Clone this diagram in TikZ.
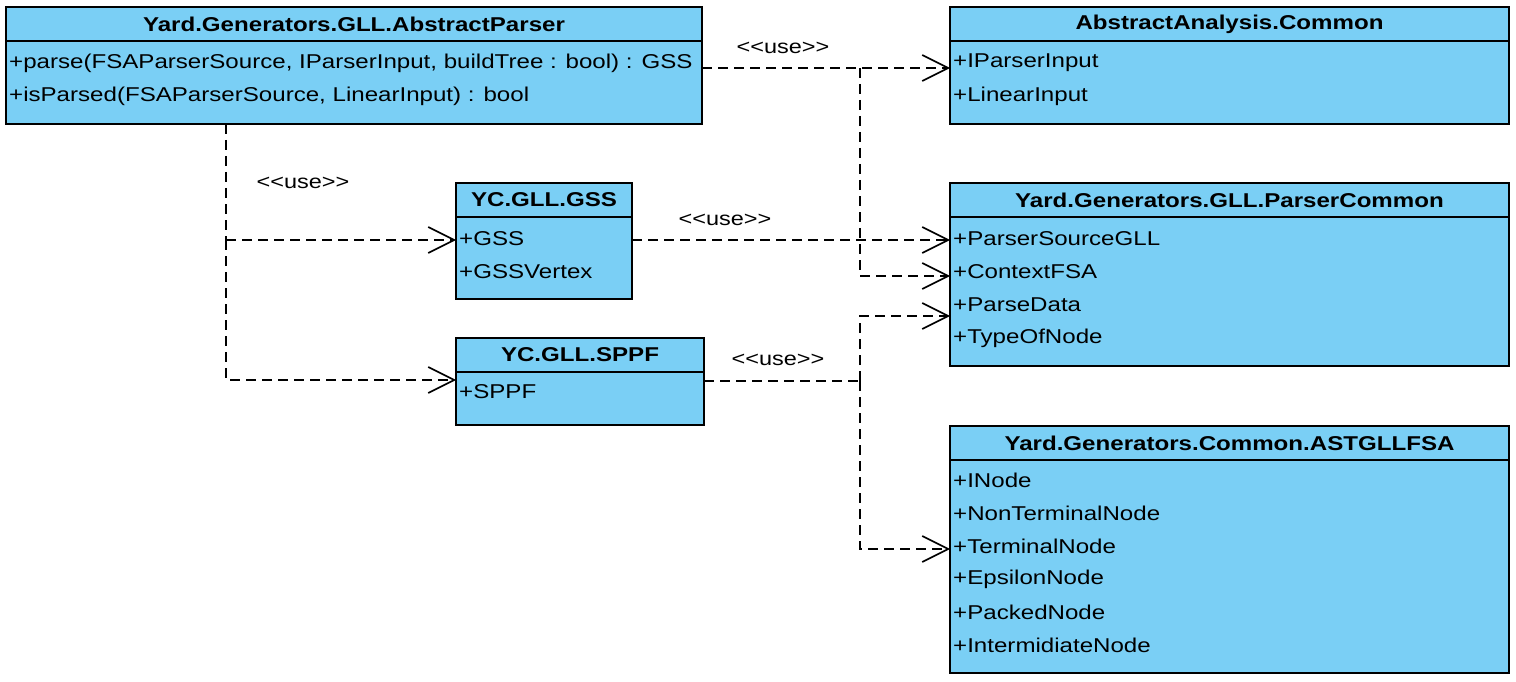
\documentclass[tikz,border=0pt]{standalone}
\usepackage{fontspec}
\setmainfont{Liberation Sans}[FakeStretch=1.205]
\usetikzlibrary{arrows.meta}
\definecolor{umlfill}{RGB}{122,207,245}
\tikzset{
 cls/.style={draw=black, line width=1.6pt, fill=umlfill, anchor=north west, inner sep=0pt, outer sep=0pt},
 hdr/.style={font=\fontsize{20}{24}\selectfont\bfseries, inner sep=0pt, anchor=center},
 row/.style={font=\fontsize{20}{24}\selectfont, inner sep=0pt, anchor=west},
 divl/.style={line width=1.6pt},
 depl/.style={line width=1.6pt, dash pattern=on 10pt off 6pt},
 dep/.style={depl, -{Straight Barb[length=26pt,width=26pt,line width=1.6pt]}},
 lbl/.style={font=\fontsize{19.5}{22}\selectfont, inner sep=0pt}
}
\begin{document}
\begin{tikzpicture}[x=1pt,y=-1pt]
\useasboundingbox (0,0) rectangle (1516,682);
% classes
\node[cls, minimum width=696pt, minimum height=117pt] (ap) at (6,7) {};
\node[cls, minimum width=559pt, minimum height=117pt] (aac) at (950,7) {};
\node[cls, minimum width=176pt, minimum height=116pt] (gss) at (456,183) {};
\node[cls, minimum width=248pt, minimum height=87pt] (sppf) at (456,338) {};
\node[cls, minimum width=559pt, minimum height=183pt] (pc) at (950,183) {};
\node[cls, minimum width=559pt, minimum height=247pt] (ast) at (950,426) {};
% dividers
\foreach \b in {ap,aac,gss,sppf,pc,ast}{
  \draw[divl] ([yshift=-34pt]\b.north west) -- ([yshift=-34pt]\b.north east);
}
% headers
\node[hdr] (ap-h) at ([yshift=-17pt]ap.north) {Yard.Generators.GLL.AbstractParser};
\node[hdr] (aac-h) at ([yshift=-17pt]aac.north) {AbstractAnalysis.Common};
\node[hdr] (gss-h) at ([yshift=-17pt]gss.north) {YC.GLL.GSS};
\node[hdr] (sppf-h) at ([yshift=-17pt]sppf.north) {YC.GLL.SPPF};
\node[hdr] (pc-h) at ([yshift=-17pt]pc.north) {Yard.Generators.GLL.ParserCommon};
\node[hdr] (ast-h) at ([yshift=-17pt]ast.north) {Yard.Generators.Common.ASTGLLFSA};
% rows
\node[row] (ap-r1) at ([xshift=3pt,yshift=-56pt]ap.north west) {+parse(FSAParserSource, IParserInput, buildTree : bool) : GSS};
\node[row] (ap-r2) at ([xshift=3pt,yshift=-89pt]ap.north west) {+isParsed(FSAParserSource, LinearInput) : bool};
\node[row] (aac-r1) at ([xshift=3pt,yshift=-56pt]aac.north west) {+IParserInput};
\node[row] (aac-r2) at ([xshift=3pt,yshift=-89pt]aac.north west) {+LinearInput};
\node[row] (gss-r1) at ([xshift=3pt,yshift=-56pt]gss.north west) {+GSS};
\node[row] (gss-r2) at ([xshift=3pt,yshift=-89pt]gss.north west) {+GSSVertex};
\node[row] (sppf-r1) at ([xshift=3pt,yshift=-54pt]sppf.north west) {+SPPF};
\node[row] (pc-r1) at ([xshift=3pt,yshift=-56pt]pc.north west) {+ParserSourceGLL};
\node[row] (pc-r2) at ([xshift=3pt,yshift=-89pt]pc.north west) {+ContextFSA};
\node[row] (pc-r3) at ([xshift=3pt,yshift=-122pt]pc.north west) {+ParseData};
\node[row] (pc-r4) at ([xshift=3pt,yshift=-155pt]pc.north west) {+TypeOfNode};
\node[row] (ast-r1) at ([xshift=3pt,yshift=-54pt]ast.north west) {+INode};
\node[row] (ast-r2) at ([xshift=3pt,yshift=-87pt]ast.north west) {+NonTerminalNode};
\node[row] (ast-r3) at ([xshift=3pt,yshift=-120pt]ast.north west) {+TerminalNode};
\node[row] (ast-r4) at ([xshift=3pt,yshift=-153pt]ast.north west) {+EpsilonNode};
\node[row] (ast-r5) at ([xshift=3pt,yshift=-186pt]ast.north west) {+PackedNode};
\node[row] (ast-r6) at ([xshift=3pt,yshift=-219pt]ast.north west) {+IntermidiateNode};
% junction coordinates
\coordinate (j1) at (860,68);
\coordinate (j1b) at (860,276);
\coordinate (k0) at (226,240);
\coordinate (k1) at (226,380);
\coordinate (s0) at (860,381);
\coordinate (s1) at (860,316);
\coordinate (s2) at (860,549);
% connectors
\draw[dep] (ap.east |- j1) -- (aac.west |- j1);
\draw[dep] (j1) -- (j1b) -- (pc.west |- j1b);
\draw[depl] (ap.south -| k0) -- (k0);
\draw[dep] (k0) -- (gss.west |- k0);
\draw[dep] (k0) -- (k1) -- (sppf.west |- k1);
\draw[dep] (gss.east |- k0) -- (pc.west |- k0);
\draw[depl] (sppf.east |- s0) -- (s0);
\draw[dep] (s0) -- (s1) -- (pc.west |- s1);
\draw[dep] (s0) -- (s2) -- (ast.west |- s2);
% labels
\node[lbl] (u1) at (783,48) {<{}<use>{}>};
\node[lbl] (u2) at (303,183) {<{}<use>{}>};
\node[lbl] (u3) at (725,220) {<{}<use>{}>};
\node[lbl] (u4) at (778,360) {<{}<use>{}>};
\end{tikzpicture}
\end{document}
